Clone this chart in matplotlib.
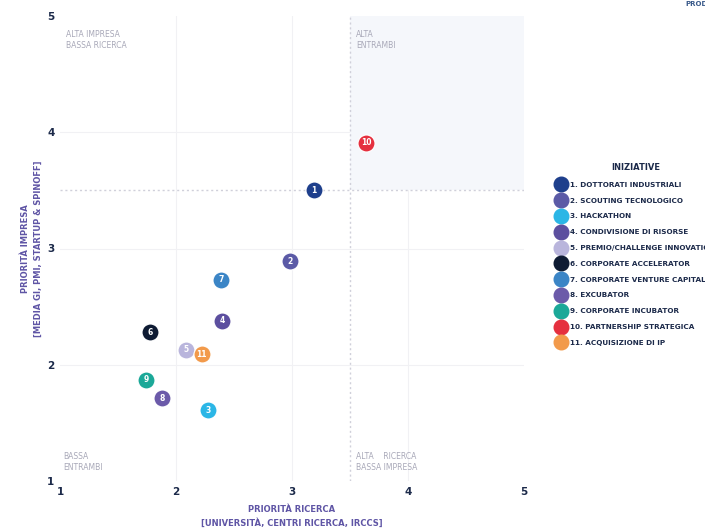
import matplotlib.pyplot as plt
from matplotlib.lines import Line2D
from matplotlib.patches import Rectangle

# dati
NOMI = ["1. DOTTORATI INDUSTRIALI", "2. SCOUTING TECNOLOGICO", "3. HACKATHON",
        "4. CONDIVISIONE DI RISORSE", "5. PREMIO/CHALLENGE INNOVATION",
        "6. CORPORATE ACCELERATOR", "7. CORPORATE VENTURE CAPITAL",
        "8. EXCUBATOR", "9. CORPORATE INCUBATOR", "10. PARTNERSHIP STRATEGICA",
        "11. ACQUISIZIONE DI IP"]
RICERCA = [3.19, 2.98, 2.28, 2.40, 2.09, 1.78, 2.39, 1.88, 1.74, 3.64, 2.22]
IMPRESA = [3.50, 2.89, 1.61, 2.38, 2.13, 2.28, 2.73, 1.71, 1.87, 3.91, 2.09]
COLORI = ["#1e3f8c", "#5b5aa6", "#2bb6e6", "#5c4f9f", "#b9b5dc", "#0e1b33",
          "#3b85c6", "#6b5aa9", "#1ba898", "#e5303f", "#f29a4b"]
TICKS = [1, 2, 3, 4, 5]
SOGLIA = 3.5

NAVY = "#1c2a4a"
VIOLA = "#5f55a5"
GRIGIO = "#a8a8b8"
plt.rcParams['font.family'] = ['DejaVu Sans']

fig = plt.figure(figsize=(7.05, 5.28), dpi=100)
ax = fig.add_axes([60/705, 47/528, 464/705, 465/528])
ax.set_xlim(1, 5)
ax.set_ylim(1, 5)
for s in ax.spines.values():
    s.set_visible(False)

# griglia leggera e quadranti
for t in TICKS[1:-1]:
    ax.axvline(t, color="#f1f1f4", lw=0.8, zorder=0)
    ax.axhline(t, color="#f1f1f4", lw=0.8, zorder=0)
ax.add_patch(Rectangle((SOGLIA, SOGLIA), 5 - SOGLIA, 5 - SOGLIA, color="#f5f7fb", zorder=0, lw=0))
ax.axvline(SOGLIA, color="#d0d0da", lw=1, ls=(0, (1.5, 2)), zorder=1)
ax.axhline(SOGLIA, color="#d0d0da", lw=1, ls=(0, (1.5, 2)), zorder=1)

ax.set_xticks(TICKS)
ax.set_yticks(TICKS)
ax.set_xticklabels([str(t) for t in TICKS], fontweight='bold', color=NAVY, fontsize=7.5)
ax.set_yticklabels([str(t) for t in TICKS], fontweight='bold', color=NAVY, fontsize=7.5)
ax.tick_params(length=0, pad=4)

for i in range(len(NOMI)):
    ax.scatter(RICERCA[i], IMPRESA[i], s=150, color=COLORI[i], edgecolors='white', linewidths=0.8, zorder=3)
    ax.text(RICERCA[i], IMPRESA[i], str(i + 1), color='white', fontsize=5.5, fontweight='bold',
            ha='center', va='center', zorder=4)

qs = dict(color=GRIGIO, fontsize=5.5, va='top', linespacing=1.3)
ax.text(1.05, 4.88, "ALTA IMPRESA\nBASSA RICERCA", **qs)
ax.text(3.55, 4.88, "ALTA\nENTRAMBI", **qs)
ax.text(1.03, 1.25, "BASSA\nENTRAMBI", **qs)
ax.text(3.55, 1.25, "ALTA    RICERCA\nBASSA IMPRESA", **qs)

ax.set_xlabel("PRIORITÀ RICERCA\n[UNIVERSITÀ, CENTRI RICERCA, IRCCS]", color=VIOLA,
              fontweight='bold', fontsize=6, labelpad=6, linespacing=1.6)
ax.set_ylabel("PRIORITÀ IMPRESA\n[MEDIA GI, PMI, STARTUP & SPINOFF]", color=VIOLA,
              fontweight='bold', fontsize=6, labelpad=3, linespacing=1.6)

handles = [Line2D([], [], marker='o', ls='', markersize=10.5, color=c) for c in COLORI]
leg = ax.legend(handles, NOMI, title="INIZIATIVE", loc='upper left', bbox_to_anchor=(1.065, 0.69),
                frameon=False, fontsize=5.2, handletextpad=0.75, labelspacing=1.35,
                borderaxespad=0, handlelength=1.0)
leg.get_title().set_fontweight('bold')
leg.get_title().set_fontsize(6)
leg.get_title().set_color(NAVY)
for t in leg.get_texts():
    t.set_color(NAVY)
    t.set_fontweight('bold')

fig.text(685/705, 1 - 4/528, "PRODOTTO", color="#3a5a8a", fontsize=5, fontweight='bold', va='center')

fig.savefig("out.png", dpi=100)
